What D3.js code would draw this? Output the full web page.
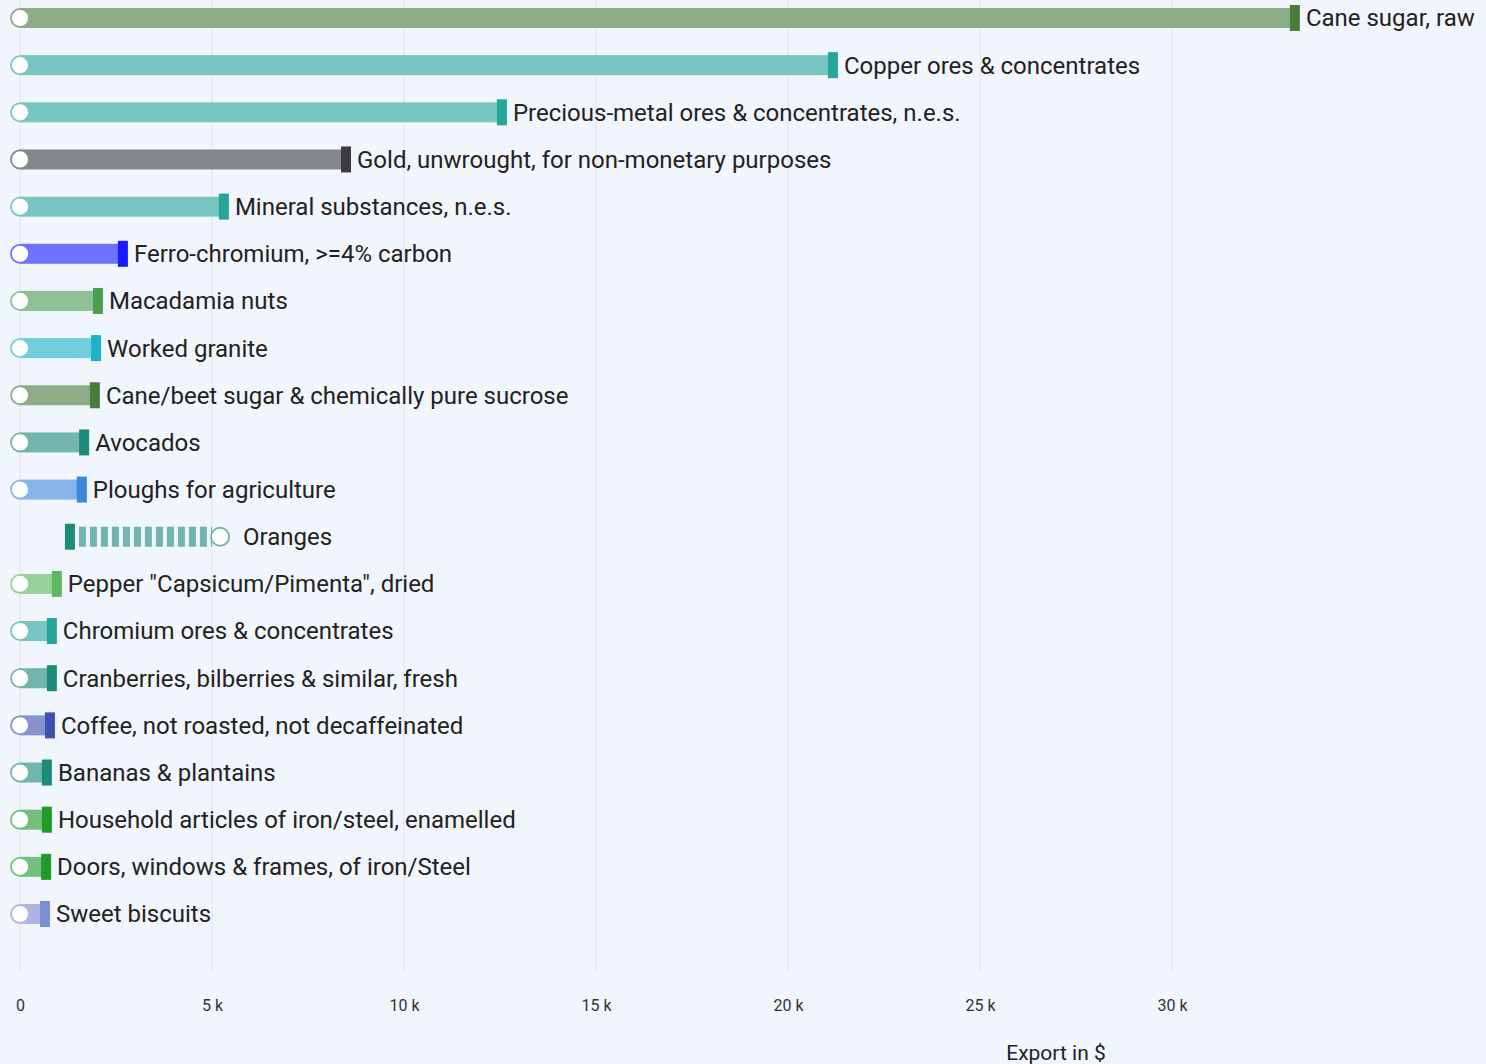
<!DOCTYPE html>
<html>
<head>
<meta charset="utf-8">
<script src="https://cdn.jsdelivr.net/npm/d3@7/dist/d3.min.js"></script>
<style>
    html, body { margin: 0; padding: 0; background: #f1f5fc; }
    svg { display: block; font-family: Roboto, "Noto Sans", sans-serif; }
</style>
</head>
<body>
<div id="chart"></div>
<script>
// product names, top to bottom
const categories = [
    'Cane sugar, raw',
    'Copper ores & concentrates',
    'Precious-metal ores & concentrates, n.e.s.',
    'Gold, unwrought, for non-monetary purposes',
    'Mineral substances, n.e.s.',
    'Ferro-chromium, >=4% carbon',
    'Macadamia nuts',
    'Worked granite',
    'Cane/beet sugar & chemically pure sucrose',
    'Avocados',
    'Ploughs for agriculture',
    'Oranges',
    'Pepper "Capsicum/Pimenta", dried',
    'Chromium ores & concentrates',
    'Cranberries, bilberries & similar, fresh',
    'Coffee, not roasted, not decaffeinated',
    'Bananas & plantains',
    'Household articles of iron/steel, enamelled',
    'Doors, windows & frames, of iron/Steel',
    'Sweet biscuits'
];

// export value at start (circle) and end (bar marker), in $
const startValues = [0, 0, 0, 0, 0, 0, 0, 0, 0, 0, 0, 5210, 0, 0, 0, 0, 0, 0, 0, 0];
const endValues = [33200, 21170, 12550, 8490, 5310, 2680, 2030, 1980, 1950, 1670,
    1610, 1300, 960, 830, 830, 780, 700, 700, 680, 650];

const groupColors = ['#4a7c3b', '#26a69a', '#26a69a', '#3c3c3c', '#26a69a', '#1a1aff',
    '#4c9f50', '#1cb5c8', '#4a7c3b', '#1e8a78', '#3b88de', '#1e8a78', '#5cb85c',
    '#26a69a', '#1e8a78', '#3f51b5', '#1e8a78', '#229a2a', '#229a2a', '#7f8bd2'];

const tickValues = [0, 5000, 10000, 15000, 20000, 25000, 30000];
const axisTitle = 'Export in $';

const width = 1486,
    height = 1064,
    bg = '#f1f5fc';

const svg = d3.select('#chart').append('svg')
    .attr('width', width)
    .attr('height', height);

svg.append('rect')
    .attr('width', width)
    .attr('height', height)
    .attr('fill', bg);

const x = d3.scaleLinear()
    .domain([0, 35000])
    .range([20, 20 + 35 * 38.4]);

const y = d3.scalePoint()
    .domain(categories)
    .range([18, 914]);

// light version of a colour, as if drawn at 60% over the background
const light = c => d3.interpolateRgb(bg, c)(0.6);

// Grid

svg.append('g')
    .selectAll('line')
    .data(tickValues)
    .join('line')
    .attr('x1', d => x(d))
    .attr('x2', d => x(d))
    .attr('y1', 0)
    .attr('y2', 973)
    .attr('stroke', '#e1e5ea')
    .attr('stroke-width', 1);

// Axis

const axisX = d3.axisBottom(x)
    .tickValues(tickValues)
    .tickSize(0)
    .tickPadding(0)
    .tickFormat(d => d === 0 ? '0' : (d / 1000) + ' k');

const gAxis = svg.append('g')
    .attr('transform', 'translate(0, 1000)')
    .call(axisX);

gAxis.select('.domain').remove();
gAxis.selectAll('text')
    .attr('fill', '#333')
    .style('font-size', '16px')
    .style('font-family', 'Roboto, sans-serif');

svg.append('text')
    .attr('x', 1056)
    .attr('y', 1060)
    .attr('text-anchor', 'middle')
    .attr('fill', '#222')
    .style('font-size', '21px')
    .text(axisTitle);

// Rows

const rows = categories.map((c, i) => ({
    name: c,
    start: startValues[i],
    end: endValues[i],
    color: groupColors[i]
}));

const row = svg.append('g')
    .selectAll('g')
    .data(rows)
    .join('g')
    .attr('transform', d => 'translate(0, ' + y(d.name) + ')');

// bars growing (solid)
row.filter(d => d.end >= d.start)
    .append('rect')
    .attr('x', d => x(d.start))
    .attr('y', -10)
    .attr('width', d => x(d.end) - x(d.start))
    .attr('height', 20)
    .attr('fill', d => light(d.color));

// bars shrinking (striped)
row.filter(d => d.end < d.start)
    .append('line')
    .attr('x1', d => x(d.end) + 9)
    .attr('x2', d => x(d.start) - 8)
    .attr('y1', 0)
    .attr('y2', 0)
    .attr('stroke', d => light(d.color))
    .attr('stroke-width', 20)
    .attr('stroke-dasharray', '7,4');

// end marker
row.append('rect')
    .attr('x', d => x(d.end) - 5)
    .attr('y', -13)
    .attr('width', 10)
    .attr('height', 26)
    .attr('fill', d => d.color);

// start circle
row.append('circle')
    .attr('cx', d => x(d.start))
    .attr('cy', 0)
    .attr('r', 9)
    .attr('fill', '#fff')
    .attr('stroke', d => light(d.color))
    .attr('stroke-width', 1.8);

row.append('text')
    .attr('x', d => d.end >= d.start ? x(d.end) + 11 : x(d.start) + 23)
    .attr('y', 0)
    .attr('dy', '0.35em')
    .attr('fill', '#222')
    .style('font-size', '24px')
    .text(d => d.name);
</script>
</body>
</html>
